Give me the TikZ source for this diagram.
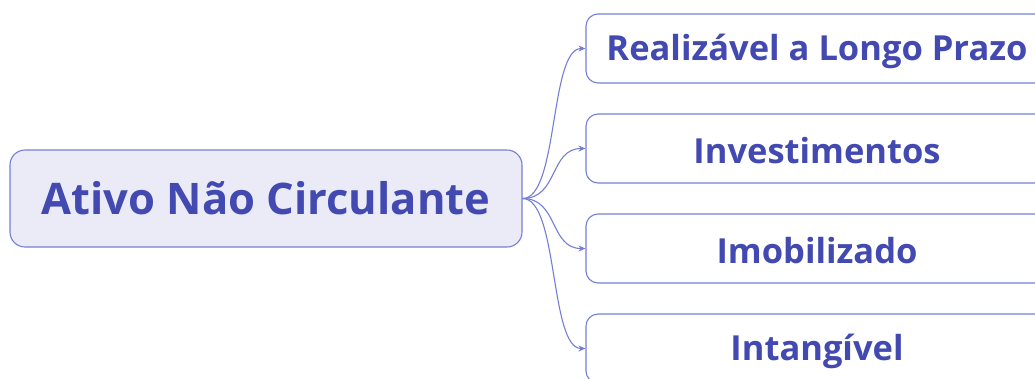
\documentclass[tikz,border=0pt]{standalone}
\usepackage{fontspec}
\setmainfont{Open Sans}
\usepackage{tikz}
\usetikzlibrary{arrows.meta}
\definecolor{txtblue}{RGB}{66,73,176}
\definecolor{lineblue}{RGB}{118,126,212}
\definecolor{rootfill}{RGB}{235,235,248}
\tikzset{
  rootbox/.style={draw=lineblue, line width=1.1pt, fill=rootfill, rounded corners=15pt,
    minimum width=512pt, minimum height=97pt, text=txtblue, font=\fontsize{43.5}{48}\selectfont\bfseries},
  leafbox/.style={draw=lineblue, line width=1.1pt, fill=white, rounded corners=12pt,
    minimum width=462pt, minimum height=69pt, text=txtblue, font=\fontsize{34.5}{40}\selectfont\bfseries},
  leaftext/.style={text=txtblue, font=\fontsize{34.5}{40}\selectfont\bfseries},
  conn/.style={draw=lineblue, line width=1.1pt, -{Stealth[length=7pt,width=6pt]}}
}
\begin{document}
\begin{tikzpicture}[x=1pt,y=-1pt]
\clip (0,0) rectangle (1035,378);
\fill[white] (0,0) rectangle (1035,378);
\node[rootbox] (root) at (266,198.5) {Ativo Não Circulante};
\node[leafbox] (realizavel) at (817,48.5) {};
\node[leafbox] (investimentos) at (817,148.5) {};
\node[leafbox] (imobilizado) at (817,248.5) {};
\node[leafbox] (intangivel) at (817,348.5) {};
\node[leaftext] (realizavelt) at ([yshift=-2.5pt]realizavel.center) {Realizável a Longo Prazo};
\node[leaftext] (investimentost) at ([yshift=-2.5pt]investimentos.center) {Investimentos};
\node[leaftext] (imobilizadot) at ([yshift=-2.5pt]imobilizado.center) {Imobilizado};
\node[leaftext] (intangivelt) at ([yshift=-2.5pt]intangivel.center) {Intangível};
\draw[conn] (root.east) .. controls +(36,0) and +(-36,0) .. (realizavel.west);
\draw[conn] (root.east) .. controls +(36,0) and +(-36,0) .. (investimentos.west);
\draw[conn] (root.east) .. controls +(36,0) and +(-36,0) .. (imobilizado.west);
\draw[conn] (root.east) .. controls +(36,0) and +(-36,0) .. (intangivel.west);
\end{tikzpicture}
\end{document}
